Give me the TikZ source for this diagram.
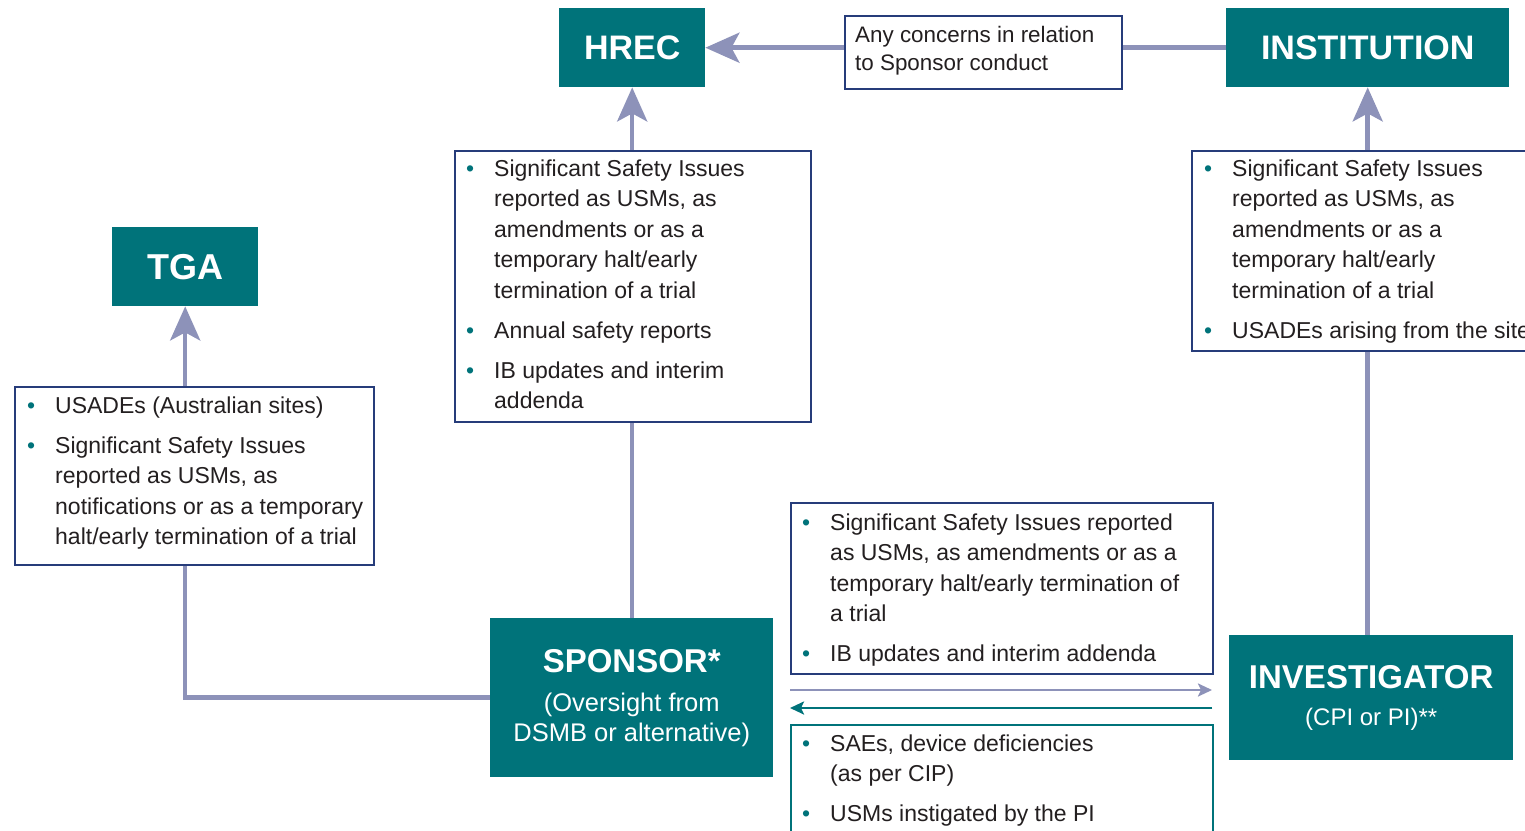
\documentclass[tikz,border=0pt]{standalone}
\usepackage{fontspec}
\setmainfont{Liberation Sans}
\usetikzlibrary{arrows.meta}
\definecolor{tealc}{RGB}{0,115,122}
\definecolor{navyc}{RGB}{38,60,122}
\definecolor{lavc}{RGB}{141,146,185}
\definecolor{txtc}{RGB}{35,31,32}
\newcommand{\nsp}{\spaceskip=\fontdimen2\font\relax\xspaceskip=\fontdimen2\font\relax}
\newcommand{\bitem}[1]{\noindent\nsp\hangindent=40pt\hangafter=1\hbox to 40pt{\hspace{12pt}\textcolor{tealc}{\textbullet}\hfil}\strut#1\par}
\newcommand{\igap}{\vspace{9.5pt}}
\tikzset{
  tbox/.style={fill=tealc, text=white, inner sep=0pt, align=center, anchor=north west},
  ttitle/.style={font=\fontsize{34}{40}\selectfont\bfseries},
  infobox/.style={draw=navyc, line width=2pt, inner sep=0pt, anchor=north west},
  tealinfobox/.style={draw=tealc, line width=2pt, inner sep=0pt, anchor=north west},
  infotext/.style={anchor=north west, inner sep=0pt, align=left, text=txtc, font=\fontsize{23}{30.5}\selectfont},
  conn/.style={draw=lavc, line width=4.5pt},
  bigarrow/.style={conn, -{Stealth[length=34pt,width=30pt,inset=8pt]}},
  smallarrow/.style={line width=2.5pt, -{Stealth[length=14pt,width=13pt,inset=3pt]}}
}
\begin{document}
\begin{tikzpicture}[x=1pt,y=-1pt]
\useasboundingbox (0,0) rectangle (1525,830);
\clip (0,0) rectangle (1525,830);
\fill[white] (0,0) rectangle (1525,830);

% title boxes
\node[tbox, ttitle, minimum width=146pt, minimum height=79pt] (hrec) at (559,8) {HREC};
\node[tbox, ttitle, minimum width=283pt, minimum height=79pt] (inst) at (1226,8) {INSTITUTION};
\node[tbox, font=\fontsize{36}{40}\selectfont\bfseries, minimum width=146pt, minimum height=79pt] (tga) at (112,227) {TGA};
\node[tbox, text width=283pt, minimum height=159pt] (sponsor) at (490,618)
  {{\fontsize{33}{39}\selectfont\bfseries SPONSOR*\par}\vspace{9pt}{\fontsize{25.5}{30}\selectfont\nsp (Oversight from\par DSMB or alternative)\par}};
\node[tbox, text width=284pt, minimum height=125pt] (investigator) at (1229,635)
  {{\fontsize{33}{39}\selectfont\bfseries INVESTIGATOR\par}\vspace{7pt}{\fontsize{24}{30}\selectfont\nsp (CPI or PI)**\par}};

% info boxes
\node[infobox, minimum width=277pt, minimum height=73pt] (concern) at (844,15) {};
\node[infotext, text width=262pt, font=\fontsize{22.4}{28}\selectfont] (concerntext) at (855,22.4)
  {\nsp\strut Any concerns in relation\newline to Sponsor conduct};

\node[infobox, minimum width=356pt, minimum height=271pt] (hrecinfo) at (454,150) {};
\node[infotext, text width=350pt] (hrecinfotext) at (454,154.65)
  {\bitem{Significant Safety Issues\newline reported as USMs, as\newline amendments or as a\newline temporary halt/early\newline termination of a trial}\igap
   \bitem{Annual safety reports}\igap
   \bitem{IB updates and interim\newline addenda}};

\node[infobox, minimum width=360pt, minimum height=200pt] (instinfo) at (1191,150) {};
\node[infotext, text width=350pt] (instinfotext) at (1192,154.65)
  {\bitem{Significant Safety Issues\newline reported as USMs, as\newline amendments or as a\newline temporary halt/early\newline termination of a trial}\igap
   \bitem{USADEs arising from the site}};

\node[infobox, minimum width=359pt, minimum height=178pt] (tgainfo) at (14,386) {};
\node[infotext, text width=355pt] (tgainfotext) at (15,391.65)
  {\bitem{USADEs (Australian sites)}\igap
   \bitem{Significant Safety Issues\newline reported as USMs, as\newline notifications or as a temporary\newline halt/early termination of a trial}};

\node[infobox, minimum width=422pt, minimum height=171pt] (midinfo) at (790,502) {};
\node[infotext, text width=418pt] (midinfotext) at (790,508.65)
  {\bitem{Significant Safety Issues reported\newline as USMs, as amendments or as a\newline temporary halt/early termination of\newline a trial}\igap
   \bitem{IB updates and interim addenda}};

\node[tealinfobox, minimum width=422pt, minimum height=130pt] (botinfo) at (790,724) {};
\node[infotext, text width=418pt] (botinfotext) at (790,729.65)
  {\bitem{SAEs, device deficiencies\newline (as per CIP)}\igap
   \bitem{USMs instigated by the PI}};

% connectors
\draw[bigarrow] (hrec.east -| concern.west) -- (hrec.east);
\draw[conn] (inst.west) -- (inst.west -| concern.east);
\draw[bigarrow] (hrec.south |- hrecinfo.north) -- (hrec.south);
\draw[bigarrow] (inst.south |- instinfo.north) -- (inst.south);
\draw[bigarrow] (tga.south |- tgainfo.north) -- (tga.south);
\draw[conn] (sponsor.west) -| (tga.south |- tgainfo.south);
\draw[conn] (hrec.south |- sponsor.north) -- (hrec.south |- hrecinfo.south);
\draw[conn] (inst.south |- investigator.north) -- (inst.south |- instinfo.south);

\coordinate (lavL) at (790,690);
\coordinate (lavR) at (1212,690);
\coordinate (tealR) at (1212,708);
\coordinate (tealL) at (790,708);
\draw[smallarrow, draw=lavc, fill=lavc] (lavL) -- (lavR);
\draw[smallarrow, draw=tealc, fill=tealc] (tealR) -- (tealL);
\end{tikzpicture}
\end{document}
